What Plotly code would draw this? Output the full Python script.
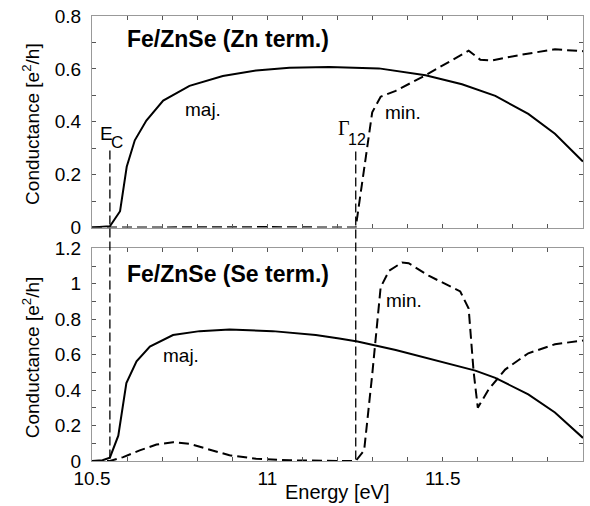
import plotly.graph_objects as go

# ---- data ----
zn_maj_x = [10.50, 10.53, 10.551, 10.580, 10.599, 10.622, 10.655, 10.703, 10.778, 10.873, 10.968, 11.063,
            11.176, 11.318, 11.451, 11.555, 11.650, 11.744, 11.820, 11.896, 11.90]
zn_maj_y = [0.0, 0.002, 0.005, 0.062, 0.23, 0.33, 0.405, 0.48, 0.536, 0.573, 0.594, 0.604,
            0.607, 0.602, 0.576, 0.542, 0.498, 0.43, 0.355, 0.255, 0.25]

zn_min_x = [10.50, 10.80, 11.00, 11.252, 11.276, 11.299, 11.323, 11.366, 11.451, 11.574, 11.607, 11.640,
            11.725, 11.820, 11.90]
zn_min_y = [0.0, 0.002, 0.002, 0.0, 0.218, 0.436, 0.495, 0.517, 0.576, 0.669, 0.635, 0.632,
            0.654, 0.674, 0.667]

se_maj_x = [10.50, 10.53, 10.551, 10.575, 10.598, 10.627, 10.665, 10.731, 10.807, 10.892, 11.015, 11.138,
            11.205, 11.257, 11.366, 11.460, 11.593, 11.650, 11.744, 11.820, 11.896, 11.90]
se_maj_y = [0.0, 0.004, 0.019, 0.143, 0.44, 0.562, 0.646, 0.711, 0.733, 0.742, 0.733, 0.711,
            0.692, 0.674, 0.627, 0.580, 0.510, 0.469, 0.376, 0.274, 0.138, 0.13]

se_min_x = [10.50, 10.551, 10.589, 10.636, 10.684, 10.731, 10.778, 10.826, 10.892, 10.968, 11.063, 11.205,
            11.252, 11.276, 11.299, 11.323, 11.347, 11.384, 11.403, 11.460, 11.550, 11.574, 11.588,
            11.600, 11.631, 11.678, 11.744, 11.820, 11.90]
se_min_y = [0.0, 0.0, 0.022, 0.06, 0.093, 0.106, 0.097, 0.069, 0.032, 0.013, 0.004, 0.0,
            0.0, 0.06, 0.488, 0.98, 1.074, 1.12, 1.116, 1.046, 0.957, 0.86, 0.506,
            0.301, 0.404, 0.516, 0.608, 0.659, 0.68]

e_c = 10.551
gamma12 = 11.252

x_tickvals = [10.5, 11.0, 11.5]
x_ticktext = ["10.5", "11", "11.5"]
zn_ytickvals = [0, 0.2, 0.4, 0.6, 0.8]
se_ytickvals = [0, 0.2, 0.4, 0.6, 0.8, 1.0, 1.2]

FONT = "Liberation Sans, Arial, sans-serif"
SERIF = "Liberation Serif, Times New Roman, serif"
LINE = dict(color="black", width=2)
DASH = "10px,5px"

fig = go.Figure()
fig.add_trace(go.Scatter(x=zn_maj_x, y=zn_maj_y, mode="lines", line=LINE, xaxis="x", yaxis="y"))
fig.add_trace(go.Scatter(x=zn_min_x, y=zn_min_y, mode="lines", line=dict(LINE, dash=DASH), xaxis="x", yaxis="y"))
fig.add_trace(go.Scatter(x=se_maj_x, y=se_maj_y, mode="lines", line=LINE, xaxis="x2", yaxis="y2"))
fig.add_trace(go.Scatter(x=se_min_x, y=se_min_y, mode="lines", line=dict(LINE, dash=DASH), xaxis="x2", yaxis="y2"))

axcommon = dict(showline=True, linecolor="#999", linewidth=1, mirror="ticks", ticks="inside",
                ticklen=4, tickcolor="#555", tickwidth=1, showgrid=False, zeroline=False,
                tickfont=dict(family=FONT, size=19, color="black"))
xminor = dict(dtick=0.1, ticks="inside", ticklen=4, tickcolor="#555", showgrid=False)
yminor = dict(dtick=0.1, ticks="inside", ticklen=4, tickcolor="#555", showgrid=False)

H = 450.0
top_lo = (461 - 225) / H
bot_hi = (461 - 246) / H

fig.update_layout(
    width=590, height=506,
    margin=dict(l=92, r=6, t=11, b=45),
    paper_bgcolor="white", plot_bgcolor="white",
    showlegend=False,
    font=dict(family=FONT, size=19, color="black"),
    xaxis=dict(axcommon, domain=[0, 1], range=[10.5, 11.9], anchor="y",
               tickvals=x_tickvals, ticktext=x_ticktext, showticklabels=False, minor=xminor),
    yaxis=dict(axcommon, domain=[top_lo, 1], range=[0, 0.8], anchor="x",
               tickvals=zn_ytickvals, minor=yminor, ticklabelstandoff=6),
    xaxis2=dict(axcommon, domain=[0, 1], range=[10.5, 11.9], anchor="y2",
                tickvals=x_tickvals, ticktext=x_ticktext, minor=xminor),
    yaxis2=dict(axcommon, domain=[0, bot_hi], range=[0, 1.2], anchor="x2",
                tickvals=se_ytickvals, minor=yminor, ticklabelstandoff=6),
)

def py2paper(py):
    return (461 - py) / H

def px2paper(px):
    return (px - 92) / 492.0

# vertical marker lines
for xv, ytop in [(e_c, 147), (gamma12, 148)]:
    fig.add_shape(type="line", xref="x", yref="paper", x0=xv, x1=xv,
                  y0=py2paper(ytop), y1=0, line=dict(color="black", width=1.3, dash="9px,4px"))

anns = [
    dict(text="<b>Fe/ZnSe (Zn term.)</b>", x=126, y=34, xa="left", size=23, fam=FONT),
    dict(text="<b>Fe/ZnSe (Se term.)</b>", x=126, y=272, xa="left", size=23, fam=FONT),
    dict(text="maj.", x=184, y=106, xa="left", size=19, fam=FONT),
    dict(text="min.", x=385, y=109, xa="left", size=19, fam=FONT),
    dict(text="maj.", x=162, y=354, xa="left", size=19, fam=FONT),
    dict(text="min.", x=386, y=299, xa="left", size=19, fam=FONT),
    dict(text="E", x=99, y=130, xa="left", size=19, fam=FONT),
    dict(text="C", x=110, y=139, xa="left", size=17, fam=FONT),
    dict(text="Γ", x=337, y=124, xa="left", size=20, fam=SERIF),
    dict(text="12", x=348, y=136, xa="left", size=16, fam=FONT),
    dict(text="Energy [eV]", x=338, y=492, xa="center", size=20, fam=FONT),
]
for a in anns:
    fig.add_annotation(text=a["text"], xref="paper", yref="paper", x=px2paper(a["x"]), y=py2paper(a["y"]),
                       xanchor=a["xa"], yanchor="middle", showarrow=False, borderpad=0,
                       font=dict(family=a["fam"], size=a["size"], color="black"))

for yc in [120, 356]:
    fig.add_annotation(text="Conductance [e<sup>2</sup>/h]", xref="paper", yref="paper",
                       x=px2paper(31), y=py2paper(yc), xanchor="center", yanchor="middle",
                       textangle=-90, showarrow=False, font=dict(family=FONT, size=19, color="black"))

fig.write_html("out.html", config={"displayModeBar": False},
               post_script="document.body.style.margin='0px';")
